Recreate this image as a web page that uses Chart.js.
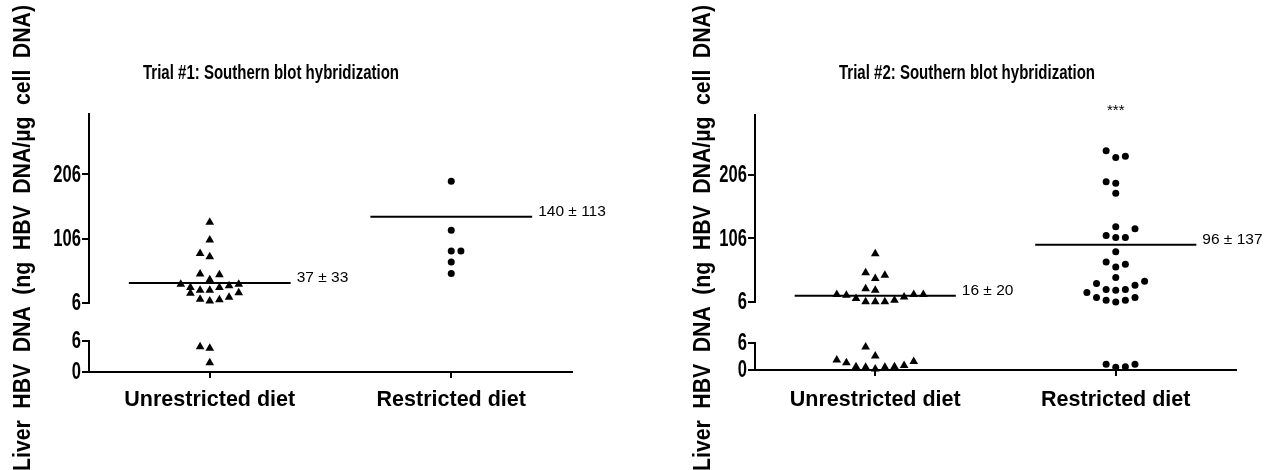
<!DOCTYPE html>
<html>
<head>
<meta charset="utf-8">
<script src="https://cdn.jsdelivr.net/npm/chart.js@4.4.0/dist/chart.umd.min.js"></script>
<style>
  body { margin: 0; background: #fff; }
  .panel { position: absolute; top: 0; width: 641px; height: 470px; }
</style>
</head>
<body>
<div class="panel" style="left:0"><canvas id="trial1"></canvas></div>
<div class="panel" style="left:641px"><canvas id="trial2"></canvas></div>
<script>
// shared labels
var categories = ["Unrestricted diet", "Restricted diet"];
var upperTicks = [6, 106, 206];
var lowerTicks = [0, 6];
var yLabel = "Liver HBV DNA (ng HBV DNA/µg cell DNA)";

// Trial #1 (upper = 6..300 segment, lower = 0..6 segment, slot = horizontal swarm position)
var t1Title = "Trial #1: Southern blot hybridization";
var t1UnrUpper = [131.5, 104, 83, 78, 51, 50, 42, 35, 30, 26, 26, 30, 33, 35, 21, 22, 12, 9, 11, 15];
var t1UnrUpperSlot = [0, 0, -1, 0, -1, 1, 0, -3, -2, -1, 0, 1, 2, 3, -2, 3, -1, 0, 1, 2];
var t1UnrLower = [4.9, 4.6, 1.8];
var t1UnrLowerSlot = [-1, 0, 0];
var t1ResUpper = [195.5, 119, 87, 87, 69.6, 52];
var t1ResUpperSlot = [0, 0, 0, 1, 0, 0];
var t1ResLower = [];
var t1ResLowerSlot = [];
var t1Means = [37, 140];
var t1MeanLabels = ["37 ± 33", "140 ± 113"];
var t1Marks = ["", ""];

// Trial #2
var t2Title = "Trial #2: Southern blot hybridization";
var t2UnrUpper = [82, 52, 48, 43, 27, 24.5, 17.7, 16.6, 11.4, 6.3, 6.2, 6.2, 8.7, 13.9, 17.7, 17.7];
var t2UnrUpperSlot = [0, -1, 1, 0, -1, 0, -4, -3, -2, -1, 0, 1, 2, 3, 4, 5];
var t2UnrLower = [2.2, 1.6, 0.7, 0.6, 0.2, 0.6, 0.7, 1.0, 1.9, 5.1, 3.1];
var t2UnrLowerSlot = [-4, -3, -2, -1, 0, 1, 2, 3, 4, -1, 0];
var t2ResUpper = [243.7, 233, 235, 195, 192.7, 177, 124.3, 121, 110.7, 107.6, 107.6, 84.9, 69, 61.2, 65.5,
                  44.5, 35, 38.6, 32.3, 20.8, 25.6, 24.5, 25.6, 13, 8.7, 6, 8.7, 13];
var t2ResUpperSlot = [-1, 0, 1, -1, 0, 0, 0, 2, -1, 0, 1, 0, -1, 0, 1,
                      0, -2, 3, 2, -3, -1, 0, 1, -2, -1, 0, 1, 2];
var t2ResLower = [1.3, 0.6, 0.7, 1.3];
var t2ResLowerSlot = [-1, 0, 1, 2];
var t2Means = [16, 96];
var t2MeanLabels = ["16 ± 20", "96 ± 137"];
var t2Marks = ["", "***"];

var SPREAD = 0.04;     // x units between swarm slots
var MEAN_HALF = 0.335; // half length of mean line, x units
var SANS = '"Liberation Sans", Arial, sans-serif';

function toPoints(cat, vals, slots) {
  return vals.map(function (v, i) { return { x: cat + slots[i] * SPREAD, y: v }; });
}

// text squeezed horizontally (the original uses a narrow face)
function narrowText(ctx, text, x, y, sx, align) {
  ctx.save();
  ctx.translate(x, y);
  ctx.scale(sx, 1);
  ctx.textAlign = align;
  ctx.fillText(text, 0, 0);
  ctx.restore();
}

var annotate = {
  id: "annotate",
  afterDraw: function (chart) {
    var o = chart.options.plugins.annotate;
    var ctx = chart.ctx, xs = chart.scales.x, yu = chart.scales.yUp;
    ctx.save();
    ctx.fillStyle = "#000";
    ctx.textBaseline = "middle";
    // title, squeezed to the original width
    ctx.font = "bold 20px " + SANS;
    narrowText(ctx, o.title, o.titleX, 73, 256 / ctx.measureText(o.title).width, "center");
    // y tick labels of both axis segments
    ctx.font = "bold 23px " + SANS;
    ["yUp", "yLow"].forEach(function (id) {
      var s = chart.scales[id];
      s.ticks.forEach(function (t) {
        narrowText(ctx, String(t.value), s.right - 8, s.getPixelForValue(t.value) + 1, 0.72, "right");
      });
    });
    // marks above groups
    ctx.font = "15px " + SANS;
    ctx.textAlign = "center";
    o.marks.forEach(function (m, i) {
      if (m) ctx.fillText(m, xs.getPixelForValue(i + 1), chart.chartArea.top - 4);
    });
    // mean labels
    ctx.font = "15.5px " + SANS;
    ctx.textAlign = "left";
    o.means.forEach(function (m, i) {
      ctx.fillText(o.meanLabels[i], xs.getPixelForValue(i + 1 + MEAN_HALF) + 6, yu.getPixelForValue(m) - 5);
    });
    // y axis label
    ctx.translate(o.yLabelX, 238);
    ctx.rotate(-Math.PI / 2);
    ctx.font = "bold 23px " + SANS;
    if ("wordSpacing" in ctx) ctx.wordSpacing = "6px";
    narrowText(ctx, yLabel, 0, 0, 466 / ctx.measureText(yLabel).width, "center");
    ctx.restore();
  }
};

function fixTicks(list) {
  return function (s) { s.ticks = list.map(function (v) { return { value: v }; }); };
}

function buildPanel(id, d) {
  var axisW = function (s) { s.width = d.axisLeft; };
  var grid = { drawOnChartArea: false, drawTicks: true, tickLength: 7, color: "#000", lineWidth: 2 };
  var border = { display: true, color: "#000", width: 2 };
  var tri = { pointStyle: "triangle", pointRadius: 5, backgroundColor: "#000", borderColor: "#000", borderWidth: 0, clip: false };
  var dot = { pointStyle: "circle", pointRadius: 3.5, backgroundColor: "#000", borderColor: "#000", borderWidth: 0, clip: false };
  function meanLine(cat, m) {
    return { type: "line", yAxisID: "yUp", data: [{ x: cat - MEAN_HALF, y: m }, { x: cat + MEAN_HALF, y: m }],
      borderColor: "#000", borderWidth: 2, pointRadius: 0, showLine: true, clip: false };
  }
  var datasets = [
    Object.assign({ yAxisID: "yUp", data: toPoints(1, d.unrUpper, d.unrUpperSlot) }, tri),
    Object.assign({ yAxisID: "yLow", data: toPoints(1, d.unrLower, d.unrLowerSlot) }, tri),
    Object.assign({ yAxisID: "yUp", data: toPoints(2, d.resUpper, d.resUpperSlot) }, dot),
    Object.assign({ yAxisID: "yLow", data: toPoints(2, d.resLower, d.resLowerSlot) }, dot),
    meanLine(1, d.means[0]),
    meanLine(2, d.means[1])
  ];
  return new Chart(document.getElementById(id), {
    type: "scatter",
    data: { datasets: datasets },
    plugins: [annotate],
    options: {
      responsive: true,
      maintainAspectRatio: false,
      animation: false,
      layout: { padding: { top: d.top, left: 0, right: d.right, bottom: 0 } },
      plugins: {
        legend: { display: false },
        tooltip: { enabled: false },
        annotate: { title: d.title, titleX: d.titleX, yLabelX: d.yLabelX, means: d.means,
                    meanLabels: d.meanLabels, marks: d.marks }
      },
      scales: {
        x: {
          type: "linear", min: 0.5, max: 2.5, position: "bottom",
          afterBuildTicks: fixTicks([1, 2]),
          afterFit: function (s) { s.height = 470 - d.bottom; },
          ticks: { color: "#000", padding: d.labelPad, font: { family: SANS, size: 21.5, weight: "bold" },
                   callback: function (v) { return categories[v - 1]; } },
          grid: { drawOnChartArea: false, drawTicks: true, tickLength: 6, color: "#000", lineWidth: 2 },
          border: border
        },
        yLow: {
          type: "linear", position: "left", stack: "y", stackWeight: d.lowH, min: 0, max: 6,
          afterBuildTicks: fixTicks(lowerTicks), afterFit: axisW,
          ticks: { display: false, autoSkip: false },
          grid: grid, border: border
        },
        yGap: {
          type: "linear", position: "left", stack: "y", stackWeight: d.gapH, min: 0, max: 1,
          afterFit: axisW,
          ticks: { display: false }, grid: { display: false }, border: { display: false }
        },
        yUp: {
          type: "linear", position: "left", stack: "y", stackWeight: d.upH, min: 6, max: 300,
          afterBuildTicks: fixTicks(upperTicks), afterFit: axisW,
          ticks: { display: false, autoSkip: false },
          grid: grid, border: border
        }
      }
    }
  });
}

buildPanel("trial1", {
  title: t1Title, titleX: 271, yLabelX: 24, axisLeft: 89, right: 69, top: 114, bottom: 372, labelPad: 9,
  upH: 189, gapH: 38, lowH: 31,
  unrUpper: t1UnrUpper, unrUpperSlot: t1UnrUpperSlot, unrLower: t1UnrLower, unrLowerSlot: t1UnrLowerSlot,
  resUpper: t1ResUpper, resUpperSlot: t1ResUpperSlot, resLower: t1ResLower, resLowerSlot: t1ResLowerSlot,
  means: t1Means, meanLabels: t1MeanLabels, marks: t1Marks
});

buildPanel("trial2", {
  title: t2Title, titleX: 326, yLabelX: 63, axisLeft: 114, right: 46, top: 115, bottom: 370, labelPad: 11,
  upH: 187, gapH: 41, lowH: 27,
  unrUpper: t2UnrUpper, unrUpperSlot: t2UnrUpperSlot, unrLower: t2UnrLower, unrLowerSlot: t2UnrLowerSlot,
  resUpper: t2ResUpper, resUpperSlot: t2ResUpperSlot, resLower: t2ResLower, resLowerSlot: t2ResLowerSlot,
  means: t2Means, meanLabels: t2MeanLabels, marks: t2Marks
});
</script>
</body>
</html>
